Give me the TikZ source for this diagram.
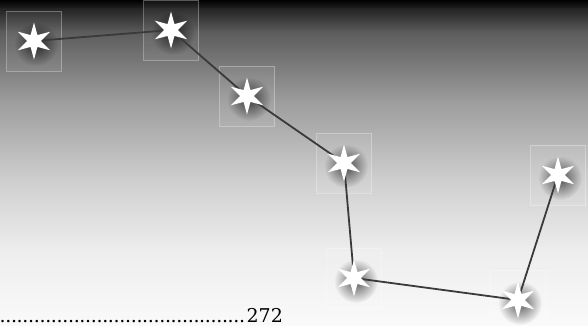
\documentclass[tikz,border=0pt]{standalone}
\usepackage{fontspec}
\usepackage{tikz}
\usetikzlibrary{shapes.geometric, fadings, positioning}
\newfontfamily\foliofont{DejaVu Serif}
\definecolor{linkgray}{RGB}{58,58,58}
\tikzfading[name=glowfade, inner color=transparent!10, outer color=transparent!100]

\begin{document}
\begin{tikzpicture}[
  x=1pt, y=-1pt,
  star box/.style={draw=white, draw opacity=0.3, fill=white, fill opacity=0.06,
    line width=0.6pt, minimum width=55pt, minimum height=60pt, inner sep=0pt},
  star glyph/.style={star, star points=6, star point ratio=2.7, minimum size=37pt,
    inner sep=0pt, fill=white, draw=none},
  star glow/.style={fill=black, opacity=0.7, path fading=glowfade},
  link/.style={draw=linkgray, line width=1.8pt, line cap=round},
]
  \useasboundingbox (0,0) rectangle (588,325);

  % sky gradient, black at the top to white at the bottom
  \foreach \ya/\yb/\ca/\cb in {0/9/0/14, 9/32/14/36, 32/100/36/61,
      100/180/61/81, 180/250/81/93, 250/325/93/98}
    \shade[top color=white!\ca!black, bottom color=white!\cb!black]
      (0,\ya-0.5) rectangle (588,\yb+0.5);

  % frames round the stars
  \foreach \n/\x/\y in {1/34/41, 2/171/30, 3/247/96, 4/344/163,
      5/354/278, 6/518/300, 7/558/175}
    \node[star box] (b\n) at (\x,\y) {};

  % glows
  \foreach \n in {1,...,7}
    \fill[star glow] ([shift={(2,3)}]b\n.center) circle (22);

  % links
  \foreach \a/\b in {1/2, 2/3, 3/4, 4/5, 5/6, 6/7}
    \draw[link] (b\a.center) -- (b\b.center);

  % stars
  \foreach \n in {1,...,7}
    \node[star glyph] (s\n) at (b\n.center) {};

  % folio line
  \node[anchor=base east, inner sep=0pt, font=\foliofont\fontsize{19}{22}\selectfont]
    (folio) at (283,322)
    {\hbox to 283pt{\leaders\hbox to 5.7pt{\hss.\hss}\hfill 272}};
\end{tikzpicture}
\end{document}
